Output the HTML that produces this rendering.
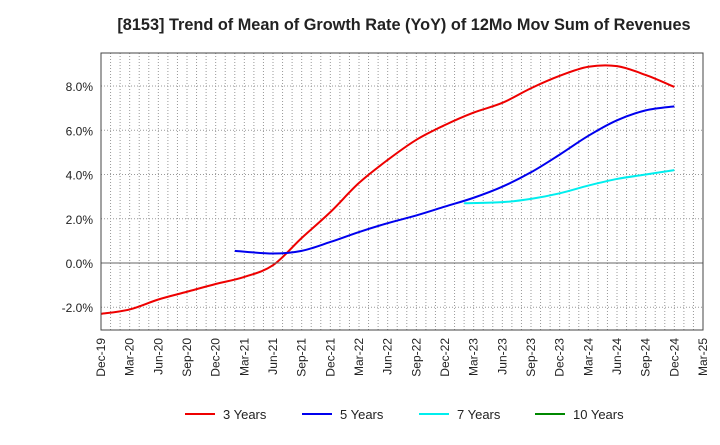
<!DOCTYPE html>
<html><head><meta charset="utf-8"><style>
body{margin:0;background:#fff;font-family:"Liberation Sans",sans-serif}
</style></head><body>
<svg id="c" width="720" height="440" xmlns="http://www.w3.org/2000/svg" font-family="Liberation Sans, sans-serif">
<text x="404" y="30" text-anchor="middle" font-size="16.3" font-weight="bold" fill="#222">[8153]  Trend of Mean of Growth Rate (YoY) of 12Mo Mov Sum of Revenues</text>
<g id="grid"></g><g id="series"></g><g id="axes"></g>
<g id="legend"></g>
</svg>
<script>
const xLabels=["Dec-19","Mar-20","Jun-20","Sep-20","Dec-20","Mar-21","Jun-21","Sep-21","Dec-21","Mar-22","Jun-22","Sep-22","Dec-22","Mar-23","Jun-23","Sep-23","Dec-23","Mar-24","Jun-24","Sep-24","Dec-24","Mar-25"];
const yTicks=[-2,0,2,4,6,8];
const m3=[0,3,6,9,12,15,18,21,24,27,30,33,36,39,42,45,48,51,54,57,60];
const v3=[-2.3,-2.1,-1.65,-1.3,-0.95,-0.63,-0.1,1.13,2.3,3.62,4.66,5.57,6.24,6.8,7.24,7.9,8.46,8.87,8.9,8.5,7.96];
const m5=[14,18,21,24,27,30,33,36,39,42,45,48,51,54,57,60];
const v5=[0.55,0.43,0.55,0.95,1.4,1.8,2.15,2.55,2.95,3.45,4.1,4.9,5.75,6.45,6.9,7.08];
const m7=[38,42,45,48,51,54,57,60];
const v7=[2.7,2.75,2.9,3.15,3.5,3.8,4.0,4.2];
const m10=[];const v10=[];
const L=101,R=703,T=53,B=330;
const X=m=>L+m*(R-L)/63, Y=v=>263-v*22.12;
const NS="http://www.w3.org/2000/svg";
function el(t,a,p){const e=document.createElementNS(NS,t);for(const k in a)e.setAttribute(k,a[k]);document.getElementById(p).appendChild(e);return e;}
for(let m=1;m<63;m++){const g=el('line',{x1:X(m),x2:X(m),y1:T,y2:B,stroke:'#999','stroke-width':1,'stroke-dasharray':'1,2'},'grid');

}
yTicks.forEach(v=>{if(v===0)return;const g=el('line',{x1:L,x2:R,y1:Y(v),y2:Y(v),stroke:'#999','stroke-width':1,'stroke-dasharray':'1,2'},'grid');

});
const z=el('line',{x1:L,x2:R,y1:Y(0),y2:Y(0),stroke:'#666','stroke-width':1},'axes');


const fr=el('rect',{x:L,y:T,width:R-L,height:B-T,fill:'none',stroke:'#444','stroke-width':1},'axes');


yTicks.forEach(v=>{const t=el('text',{x:L-8,y:Y(v)+5,'text-anchor':'end','font-size':12,fill:'#222'},'axes');t.textContent=v.toFixed(1)+'%';

});
xLabels.forEach((s,i)=>{const x=X(i*3)+4;const t=el('text',{x:x,y:B+8,'text-anchor':'end','font-size':12,fill:'#222',transform:`rotate(-90 ${x} ${B+8})`},'axes');t.textContent=s;

});
function path(ms,vs){const p=ms.map((m,i)=>[X(m),Y(vs[i])]);if(!p.length)return '';let d=`M${p[0][0]},${p[0][1]}`;
for(let i=0;i<p.length-1;i++){const p0=p[i-1]||p[i],p1=p[i],p2=p[i+1],p3=p[i+2]||p2;
d+=` C${p1[0]+(p2[0]-p0[0])/6},${p1[1]+(p2[1]-p0[1])/6} ${p2[0]-(p3[0]-p1[0])/6},${p2[1]-(p3[1]-p1[1])/6} ${p2[0]},${p2[1]}`;}return d;}
const series=[[m3,v3,'#ee0000','3 Years'],[m5,v5,'#0000ee','5 Years'],[m7,v7,'#00eeee','7 Years'],[m10,v10,'#008800','10 Years']];
series.forEach((s,i)=>{if(s[0].length){const p=el('path',{d:path(s[0],s[1]),fill:'none',stroke:s[2],'stroke-width':2},'series');

}
const lx=[185,302,419,535][i];
const l=el('line',{x1:lx,x2:lx+30,y1:414,y2:414,stroke:s[2],'stroke-width':2},'legend');


const t=el('text',{x:lx+38,y:419,'font-size':13,fill:'#222'},'legend');t.textContent=s[3];

});
</script>
</body></html>
